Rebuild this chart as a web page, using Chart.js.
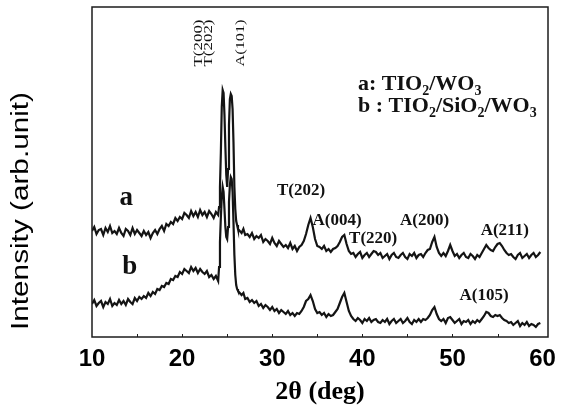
<!DOCTYPE html>
<html><head><meta charset="utf-8">
<script src="https://cdn.jsdelivr.net/npm/chart.js@4.4.0/dist/chart.umd.min.js"></script>
<style>html,body{margin:0;padding:0;background:#fff;}</style>
</head><body>
<canvas id="c" width="563" height="406"></canvas>
<script>
// 2θ positions (deg)
const twoTheta = [
  10, 10.25, 10.5, 10.75, 11, 11.25, 11.5, 11.75, 12, 12.25,
  12.5, 12.75, 13, 13.25, 13.5, 13.75, 14, 14.25, 14.5, 14.75,
  15, 15.25, 15.5, 15.75, 16, 16.25, 16.5, 16.75, 17, 17.25,
  17.5, 17.75, 18, 18.25, 18.5, 18.75, 19, 19.25, 19.5, 19.75,
  20, 20.25, 20.5, 20.75, 21, 21.25, 21.5, 21.75, 22, 22.25,
  22.5, 22.75, 23, 23.25, 23.5, 23.75, 24, 24.1, 24.2, 24.3,
  24.4, 24.5, 24.6, 24.7, 24.8, 24.9, 25, 25.1, 25.2, 25.3,
  25.4, 25.5, 25.6, 25.7, 25.8, 25.9, 26, 26.1, 26.2, 26.4,
  26.6, 26.8, 27, 27.25, 27.5, 27.75, 28, 28.25, 28.5, 28.75,
  29, 29.25, 29.5, 29.75, 30, 30.25, 30.5, 30.75, 31, 31.25,
  31.5, 31.75, 32, 32.25, 32.5, 32.75, 33, 33.25, 33.5, 33.75,
  34, 34.25, 34.5, 34.75, 35, 35.25, 35.5, 35.75, 36, 36.25,
  36.5, 36.75, 37, 37.25, 37.5, 37.75, 38, 38.25, 38.5, 38.75,
  39, 39.25, 39.5, 39.75, 40, 40.25, 40.5, 40.75, 41, 41.25,
  41.5, 41.75, 42, 42.25, 42.5, 42.75, 43, 43.25, 43.5, 43.75,
  44, 44.25, 44.5, 44.75, 45, 45.25, 45.5, 45.75, 46, 46.25,
  46.5, 46.75, 47, 47.25, 47.5, 47.75, 48, 48.25, 48.5, 48.75,
  49, 49.25, 49.5, 49.75, 50, 50.25, 50.5, 50.75, 51, 51.25,
  51.5, 51.75, 52, 52.25, 52.5, 52.75, 53, 53.25, 53.5, 53.75,
  54, 54.25, 54.5, 54.75, 55, 55.25, 55.5, 55.75, 56, 56.25,
  56.5, 56.75, 57, 57.25, 57.5, 57.75, 58, 58.25, 58.5, 58.75,
  59, 59.25, 59.5, 59.75
];
// curve a : TiO2/WO3 (arb. units)
const seriesA = [
  106, 110, 103, 107, 108, 102, 109, 105, 111, 104,
  106, 103, 109, 104, 101, 108, 106, 102, 109, 103,
  107, 104, 101, 106, 102, 105, 99, 104, 107, 103,
  108, 111, 106, 113, 111, 115, 113, 119, 116, 120,
  118, 124, 122, 119, 126, 121, 125, 120, 127, 122,
  125, 120, 126, 123, 119, 125, 122, 130, 150, 185,
  230, 247, 244, 222, 190, 162, 150, 168, 212, 238,
  243, 241, 228, 195, 150, 128, 116, 112, 108, 106,
  104, 108, 102, 103, 100, 104, 98, 101, 99, 102,
  95, 98, 96, 93, 99, 94, 91, 96, 93, 90,
  92, 89, 94, 88, 91, 86, 90, 92, 96, 103,
  112, 119, 110, 98, 91, 90, 88, 91, 86, 88,
  85, 88, 89, 91, 95, 100, 102, 93, 86, 83,
  84, 80, 83, 85, 79, 82, 84, 80, 83, 86,
  85, 82, 84, 79, 81, 83, 78, 82, 84, 80,
  79, 82, 84, 80, 78, 83, 81, 84, 79, 82,
  83, 80, 84, 87, 88, 95, 100, 90, 84, 81,
  84, 81, 86, 92, 86, 81, 83, 79, 82, 84,
  80, 79, 83, 81, 78, 82, 80, 84, 88, 92,
  89, 87, 86, 90, 93, 94, 91, 87, 84, 82,
  83, 80, 78, 82, 84, 79, 81, 83, 79, 82,
  84, 80, 82, 85
];
// curve b : TiO2/SiO2/WO3
const seriesB = [
  33, 37, 31, 34, 36, 30, 35, 33, 38, 31,
  34, 32, 37, 33, 36, 32, 38, 35, 33, 39,
  36, 40, 38, 41, 39, 44, 41, 45, 43, 48,
  47, 51, 50, 54, 53, 58, 57, 61, 60, 65,
  63, 68, 66, 64, 70, 66, 69, 64, 68, 65,
  63, 66, 60, 62, 58, 61, 56, 70, 95, 120,
  140, 150, 145, 128, 110, 100, 98, 110, 135, 152,
  160, 158, 145, 115, 82, 62, 52, 48, 46, 44,
  42, 44, 38, 39, 35, 37, 34, 36, 31, 33,
  29, 32, 30, 27, 30, 26, 28, 24, 27, 25,
  23, 26, 22, 24, 21, 24, 23, 26, 30, 36,
  38, 42, 36, 28, 24, 25, 22, 24, 20, 23,
  21, 22, 25, 28, 34, 40, 44, 35, 26, 21,
  18, 16, 19, 17, 14, 18, 16, 19, 15, 17,
  18, 15, 14, 17, 15, 18, 13, 16, 18, 14,
  16, 18, 14, 16, 19, 15, 13, 17, 15, 18,
  15, 18, 17, 19, 22, 27, 30, 23, 18, 16,
  18, 14, 19, 20, 17, 14, 16, 18, 13, 16,
  15, 17, 13, 16, 14, 17, 15, 18, 21, 25,
  24, 21, 20, 22, 21, 22, 19, 17, 16, 14,
  15, 12, 14, 16, 11, 14, 12, 15, 11, 13,
  12, 10, 13, 14
];
const xTickLabels = [10, 20, 30, 40, 50, 60];
const xMinorTicks = [15, 20, 25, 30, 35, 40, 45, 50, 55];
const seriesNames = ['a', 'b'];
const peakNames = ['T(202)', 'A(004)', 'T(220)', 'A(200)', 'A(211)', 'A(105)'];
const topPeakNames = ['T(200)', 'T(202)', 'A(101)'];

// ---- layout / style (not data) ----
const SERIF = "'Liberation Serif', 'Times New Roman', serif";
const SANS = "'Liberation Sans', Arial, sans-serif";
const peakPos = [[33.2,146],[37.2,116],[41.2,98],[46.9,116],[55.8,106],[53.5,41]];
const topPeakPos = [[198.5,43],[208.5,43],[240.5,43]];
const seriesLabelPos = [[13.8,139],[14.2,70]];

const overlay = {
  id: 'overlay',
  afterDraw(chart) {
    const ctx = chart.ctx, a = chart.chartArea;
    const xs = chart.scales.x, ys = chart.scales.y;
    ctx.save();
    // frame
    ctx.strokeStyle = '#1c1c1c';
    ctx.lineWidth = 1.5;
    ctx.strokeRect(a.left, a.top, a.right - a.left, a.bottom - a.top);
    // inward minor ticks
    ctx.lineWidth = 1;
    xMinorTicks.forEach(v => {
      const px = Math.round(xs.getPixelForValue(v)) + 0.5;
      ctx.beginPath(); ctx.moveTo(px, a.bottom); ctx.lineTo(px, a.bottom - 3); ctx.stroke();
    });
    ctx.fillStyle = '#111';
    // series labels a, b
    ctx.font = 'bold 27px ' + SERIF;
    ctx.textAlign = 'center'; ctx.textBaseline = 'middle';
    seriesNames.forEach((t, i) => {
      ctx.fillText(t, xs.getPixelForValue(seriesLabelPos[i][0]), ys.getPixelForValue(seriesLabelPos[i][1]));
    });
    // peak labels
    ctx.font = 'bold 17px ' + SERIF;
    peakNames.forEach((t, i) => {
      ctx.fillText(t, xs.getPixelForValue(peakPos[i][0]), ys.getPixelForValue(peakPos[i][1]));
    });
    // rotated top peak labels
    ctx.font = '13px ' + SERIF;
    topPeakNames.forEach((t, i) => {
      ctx.save();
      ctx.translate(topPeakPos[i][0], topPeakPos[i][1]);
      ctx.rotate(-Math.PI / 2);
      const w = ctx.measureText(t).width;
      ctx.scale(47 / w, 1);
      ctx.fillText(t, 0, 0);
      ctx.restore();
    });
    // legend text with subscripts
    const drawRich = (parts, x, y) => {
      ctx.textAlign = 'left'; ctx.textBaseline = 'alphabetic';
      parts.forEach(p => {
        const sub = /^[0-9]$/.test(p);
        ctx.font = sub ? 'bold 14px ' + SERIF : 'bold 22px ' + SERIF;
        ctx.fillText(p, x, y + (sub ? 5 : 0));
        x += ctx.measureText(p).width;
      });
    };
    drawRich(['a: TIO', '2', '/WO', '3'], 358, 90);
    drawRich(['b : TIO', '2', '/SiO', '2', '/WO', '3'], 358, 112);
    // y title
    ctx.save();
    ctx.translate(28, 211);
    ctx.rotate(-Math.PI / 2);
    ctx.font = '23px ' + SANS;
    ctx.textAlign = 'center'; ctx.textBaseline = 'alphabetic';
    const t = 'Intensity (arb.unit)';
    const w = ctx.measureText(t).width;
    ctx.scale(238 / w, 1);
    ctx.fillStyle = '#000';
    ctx.fillText(t, 0, 0);
    ctx.restore();
    ctx.restore();
  }
};

const mk = arr => twoTheta.map((x, i) => ({ x, y: arr[i] }));
new Chart(document.getElementById('c'), {
  type: 'line',
  data: {
    datasets: [
      { label: 'a', data: mk(seriesA), borderColor: '#141414', borderWidth: 2.2, pointRadius: 0, tension: 0 },
      { label: 'b', data: mk(seriesB), borderColor: '#141414', borderWidth: 2.2, pointRadius: 0, tension: 0 }
    ]
  },
  options: {
    responsive: false,
    animation: false,
    devicePixelRatio: 1,
    layout: { padding: { left: 92, right: 15, top: 7, bottom: 0 } },
    plugins: { legend: { display: false }, tooltip: { enabled: false } },
    scales: {
      x: {
        type: 'linear', min: 10, max: 60.6,
        afterBuildTicks: s => { s.ticks = xTickLabels.map(v => ({ value: v })); },
        afterFit: s => { s.height = 69; },
        grid: { display: false },
        border: { display: false },
        ticks: { color: '#000', padding: 0, maxRotation: 0, autoSkip: false,
                 font: { family: SANS, size: 24, weight: 'bold' } },
        title: { display: true, text: '2θ (deg)', color: '#000', padding: { top: 0, bottom: 1 },
                 font: { family: SERIF, size: 26, weight: 'bold', lineHeight: 1.0 } }
      },
      y: { display: false, min: 0, max: 330 }
    }
  },
  plugins: [overlay]
});
</script>
</body></html>
